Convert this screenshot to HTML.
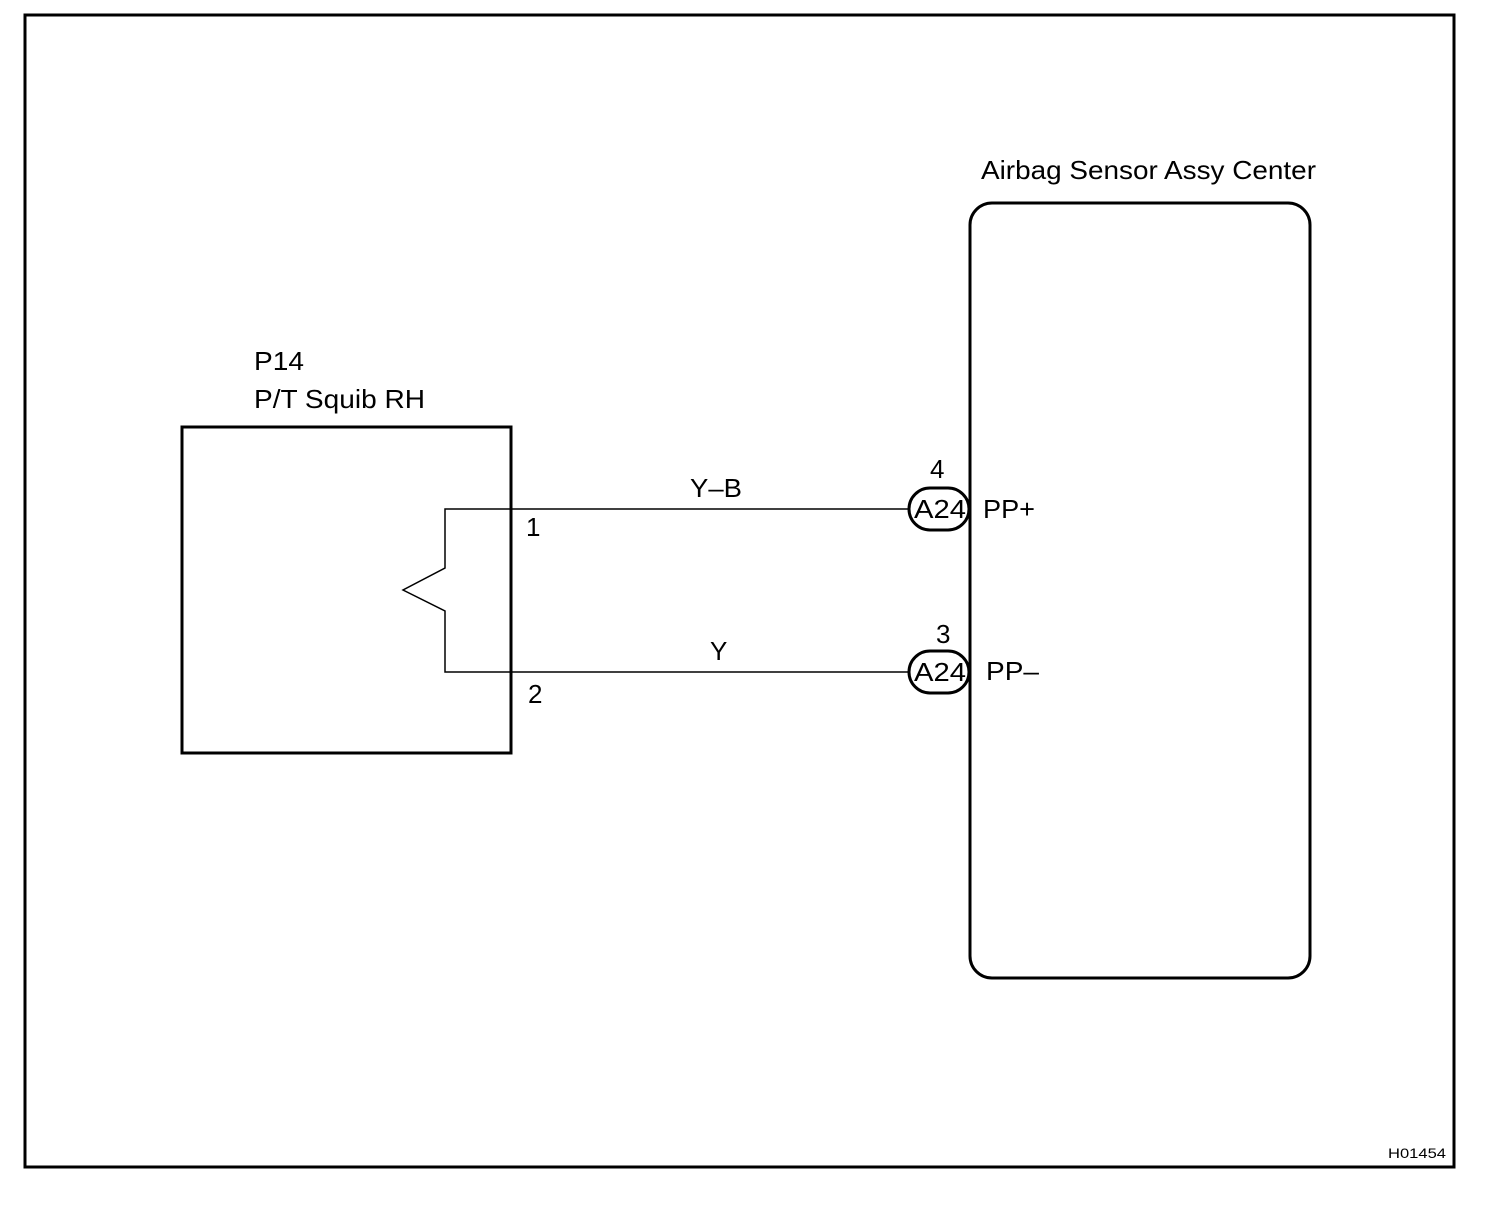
<!DOCTYPE html>
<html><head><style>
body{margin:0;background:#fff;}
svg text{font-family:"Liberation Sans",Arial,sans-serif;fill:#000;}
</style></head><body>
<svg width="1504" height="1200" viewBox="0 0 1504 1200" xmlns="http://www.w3.org/2000/svg">
<rect x="0" y="0" width="1504" height="1200" fill="#fff"/>
<rect x="25" y="15" width="1429" height="1152" fill="none" stroke="#000" stroke-width="3"/>
<rect x="182" y="427" width="329" height="326" fill="none" stroke="#000" stroke-width="3"/>
<rect x="970" y="203" width="340" height="775" rx="22" fill="none" stroke="#000" stroke-width="3"/>
<polyline points="908,509 445,509 445,568 403,590 445,611 445,672 908,672" fill="none" stroke="#000" stroke-width="1.5"/>
<rect x="909" y="488" width="60" height="42" rx="21" fill="#fff" stroke="#000" stroke-width="3"/>
<rect x="909" y="651" width="60" height="42" rx="21" fill="#fff" stroke="#000" stroke-width="3"/>
<line x1="970" y1="450" x2="970" y2="720" stroke="#000" stroke-width="3"/>
<g font-size="26">
<text x="981" y="179" textLength="335" lengthAdjust="spacingAndGlyphs">Airbag Sensor Assy Center</text>
<text x="254" y="370" textLength="50" lengthAdjust="spacingAndGlyphs">P14</text>
<text x="254" y="408" textLength="171" lengthAdjust="spacingAndGlyphs">P/T Squib RH</text>
<text x="690" y="497" textLength="52" lengthAdjust="spacingAndGlyphs">Y–B</text>
<text x="710" y="660">Y</text>
<text x="526" y="536">1</text>
<text x="528" y="703">2</text>
<text x="930" y="478">4</text>
<text x="936" y="643">3</text>
<text x="914" y="518" textLength="52" lengthAdjust="spacingAndGlyphs">A24</text>
<text x="914" y="681" textLength="52" lengthAdjust="spacingAndGlyphs">A24</text>
<text x="983" y="518" textLength="52" lengthAdjust="spacingAndGlyphs">PP+</text>
<text x="986" y="680" textLength="53" lengthAdjust="spacingAndGlyphs">PP–</text>
</g>
<text x="1388" y="1158" font-size="14" textLength="58" lengthAdjust="spacingAndGlyphs">H01454</text>
</svg>
</body></html>
